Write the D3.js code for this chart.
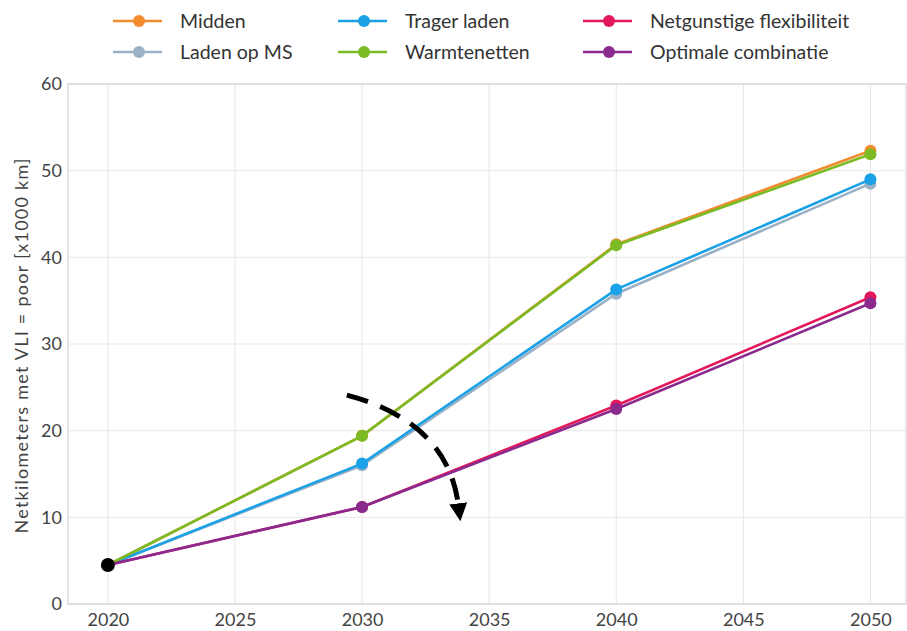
<!DOCTYPE html>
<html><head><meta charset="utf-8">
<script src="https://cdn.jsdelivr.net/npm/d3@7"></script>
<style>
html,body{margin:0;padding:0;background:#fff;}
svg{display:block;font-family:Lato,"Open Sans",sans-serif;}
</style></head>
<body>
<svg id="chart" width="907" height="631"></svg>
<script>
const years = [2020, 2030, 2040, 2050];
const seriesNames = ["Midden","Laden op MS","Trager laden","Warmtenetten","Netgunstige flexibiliteit","Optimale combinatie"];
const seriesColors = ["#f28a2e","#9bb1c6","#1aa1e6","#7bbb25","#e3185b","#8a2a8e"];
const midden = [4.5, 19.4, 41.5, 52.3];
const ladenOpMS = [4.5, 16.0, 35.8, 48.5];
const tragerLaden = [4.5, 16.2, 36.3, 49.0];
const warmtenetten = [4.5, 19.4, 41.4, 51.9];
const netgunstig = [4.5, 11.2, 22.9, 35.4];
const optimaal = [4.5, 11.2, 22.5, 34.7];
const seriesValues = [midden, ladenOpMS, tragerLaden, warmtenetten, netgunstig, optimaal];
const xTicks = [2020, 2025, 2030, 2035, 2040, 2045, 2050];
const yTicks = [0, 10, 20, 30, 40, 50, 60];
const yTitle = "Netkilometers met VLI = poor [x1000 km]";
const startValue = 4.5;
// annotation arrow (data coordinates): start, control, end
const arrowPts = [[2029.4, 24.1], [2033.4, 21.0], [2033.8, 11.2]];

const svg = d3.select("#chart");
const L = 68, R = 906, T = 84, B = 604;
const x = d3.scaleLinear().domain([2018.43, 2051.4]).range([L, R]);
const y = d3.scaleLinear().domain([0, 60]).range([B, T]);
const FONT = "Lato,'Open Sans',sans-serif";

// grid
const g = svg.append("g");
g.selectAll(".vg").data(xTicks).join("line")
  .attr("x1", d => x(d)).attr("x2", d => x(d)).attr("y1", T).attr("y2", B)
  .attr("stroke", "#e6e6e6").attr("stroke-width", 1);
g.selectAll(".hg").data(yTicks).join("line")
  .attr("x1", L).attr("x2", R).attr("y1", d => y(d)).attr("y2", d => y(d))
  .attr("stroke", "#e6e6e6").attr("stroke-width", 1);
svg.append("rect").attr("x", L).attr("y", T).attr("width", R - L).attr("height", B - T)
  .attr("fill", "none").attr("stroke", "#d3d3d3").attr("stroke-width", 1.2);

// axes
const xAxis = d3.axisBottom(x).tickValues(xTicks).tickFormat(d3.format("d")).tickSize(0).tickPadding(9);
const xa = svg.append("g").attr("transform", `translate(0,${B})`).call(xAxis);
xa.select(".domain").remove();
xa.selectAll("text").attr("font-size", 18).attr("fill", "#444").style("font-family", FONT);
const yAxis = d3.axisLeft(y).tickValues(yTicks).tickSize(0).tickPadding(6);
const ya = svg.append("g").attr("transform", `translate(${L},0)`).call(yAxis);
ya.select(".domain").remove();
ya.selectAll("text").attr("font-size", 18).attr("fill", "#444").style("font-family", FONT);

svg.append("text").attr("transform", `translate(28,${(T + B) / 2 + 2}) rotate(-90)`)
  .attr("text-anchor", "middle").attr("font-size", 18).attr("fill", "#444")
  .attr("textLength", 375).attr("lengthAdjust", "spacing").text(yTitle);

// lines
const line = d3.line().x((d, i) => x(years[i])).y(d => y(d));
seriesValues.forEach((vals, si) => {
  svg.append("path").datum(vals).attr("d", line).attr("fill", "none")
    .attr("stroke", seriesColors[si]).attr("stroke-width", 2.6);
  svg.selectAll(null).data(vals.slice(1)).join("circle")
    .attr("cx", (d, i) => x(years[i + 1])).attr("cy", d => y(d)).attr("r", 6)
    .attr("fill", seriesColors[si]);
});
svg.append("circle").attr("cx", x(years[0])).attr("cy", y(startValue)).attr("r", 7).attr("fill", "#000");

// arrow
const p = d3.path();
p.moveTo(x(arrowPts[0][0]), y(arrowPts[0][1]));
p.quadraticCurveTo(x(arrowPts[1][0]), y(arrowPts[1][1]), x(arrowPts[2][0]), y(arrowPts[2][1]));
svg.append("defs").append("marker").attr("id", "ah").attr("viewBox", "0 0 10 10")
  .attr("refX", 2).attr("refY", 5).attr("markerWidth", 3.6).attr("markerHeight", 3.6)
  .attr("orient", "auto").append("path").attr("d", "M0,0 L10,5 L0,10 Z").attr("fill", "#000");
svg.append("path").attr("d", p.toString()).attr("fill", "none").attr("stroke", "#000")
  .attr("stroke-width", 5).attr("stroke-dasharray", "22,13").attr("marker-end", "url(#ah)");

// legend
const legX = [113, 338, 583];
const legY = [21, 52];
seriesNames.forEach((name, i) => {
  const col = Math.floor(i / 2), row = i % 2;
  const lx = legX[col], ly = legY[row];
  const lg = svg.append("g");
  lg.append("line").attr("x1", lx).attr("x2", lx + 49).attr("y1", ly).attr("y2", ly)
    .attr("stroke", seriesColors[i]).attr("stroke-width", 2.6);
  lg.append("circle").attr("cx", lx + 26).attr("cy", ly).attr("r", 6).attr("fill", seriesColors[i]);
  lg.append("text").attr("x", lx + 67).attr("y", ly + 7).attr("font-size", 19.5).attr("fill", "#333").text(name);
});
</script>
</body></html>
